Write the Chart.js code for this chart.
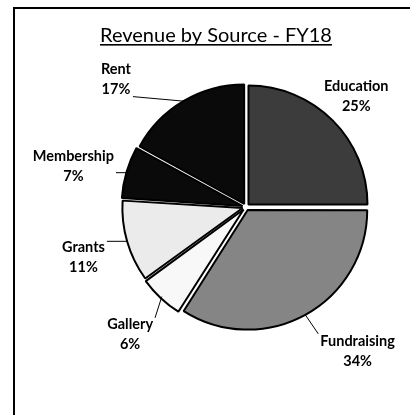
<!DOCTYPE html>
<html><head><meta charset="utf-8">
<script src="https://cdn.jsdelivr.net/npm/chart.js@4/dist/chart.umd.min.js"></script>
<style>html,body{margin:0;padding:0;background:#fff;overflow:hidden}#wrap{width:410px;height:415px;position:relative;overflow:hidden}canvas{display:block}</style>
</head><body><div id="wrap"><canvas id="c" width="410" height="415"></canvas></div>
<script>
const TITLE = 'Revenue by Source - FY18';
const categories = ['Education', 'Fundraising', 'Gallery', 'Grants', 'Membership', 'Rent'];
const shares = [25, 34, 6, 11, 7, 17];
const pctLabels = ['25%', '34%', '6%', '11%', '7%', '17%'];

// styling
const fills = ['#3c3c3c', '#858585', '#f8f8f8', '#ebebeb', '#0a0a0a', '#0a0a0a'];
const labelLayout = [
  {shift: 0, dist: 1.31},
  {shift: -9, dist: 1.53},
  {shift: -1, dist: 1.45},
  {shift: -1, dist: 1.43},
  {shift: -3, dist: 1.49},
  {shift: -15, dist: 1.53}
];
const LABEL_FONT = 'bold 14.5px Lato';
const LINE_GAP = 20;

const framePlugin = {
  id: 'frame',
  beforeDraw(chart) {
    const ctx = chart.ctx;
    ctx.save();
    ctx.fillStyle = '#fff';
    ctx.fillRect(0, 0, chart.width, chart.height);
    ctx.strokeStyle = '#000';
    ctx.lineWidth = 2;
    ctx.beginPath();
    ctx.moveTo(14, chart.height);
    ctx.lineTo(14, 8);
    ctx.lineTo(chart.width, 8);
    ctx.stroke();
    ctx.restore();
  }
};

const titlePlugin = {
  id: 'titleU',
  afterDraw(chart) {
    const ctx = chart.ctx;
    ctx.save();
    ctx.font = '20px Lato';
    ctx.fillStyle = '#000';
    ctx.textAlign = 'center';
    ctx.textBaseline = 'alphabetic';
    const cx = 216, by = 42;
    ctx.fillText(TITLE, cx, by);
    const w = ctx.measureText(TITLE).width;
    ctx.fillRect(cx - w / 2, by + 2, w, 1.6);
    ctx.restore();
  }
};

const labelPlugin = {
  id: 'sliceLabels',
  afterDatasetsDraw(chart) {
    const ctx = chart.ctx;
    const meta = chart.getDatasetMeta(0);
    ctx.save();
    ctx.font = LABEL_FONT;
    ctx.fillStyle = '#000';
    ctx.strokeStyle = '#000';
    ctx.lineWidth = 1;
    ctx.textAlign = 'center';
    ctx.textBaseline = 'middle';
    meta.data.forEach((arc, i) => {
      const p = arc.getProps(['x', 'y', 'startAngle', 'endAngle', 'outerRadius'], true);
      const mid = (p.startAngle + p.endAngle) / 2;
      const L = labelLayout[i];
      const a = mid + L.shift * Math.PI / 180;
      const lx = p.x + Math.cos(a) * p.outerRadius * L.dist;
      const ly = p.y + Math.sin(a) * p.outerRadius * L.dist;
      const t1 = categories[i], t2 = pctLabels[i];
      ctx.fillText(t1, lx, ly - LINE_GAP / 2);
      ctx.fillText(t2, lx, ly + LINE_GAP / 2);
      const w = Math.max(ctx.measureText(t1).width, ctx.measureText(t2).width);
      const bx0 = lx - w / 2 - 2, bx1 = lx + w / 2 + 2;
      const by0 = ly - LINE_GAP / 2 - 7, by1 = ly + LINE_GAP / 2 + 7;
      const er = p.outerRadius + 4;
      const ex = p.x + Math.cos(mid) * er, ey = p.y + Math.sin(mid) * er;
      const sx = Math.min(Math.max(ex, bx0), bx1), sy = Math.min(Math.max(ey, by0), by1);
      if (Math.hypot(ex - sx, ey - sy) > 10) {
        ctx.beginPath();
        ctx.moveTo(sx, sy);
        ctx.lineTo(ex, ey);
        ctx.stroke();
      }
    });
    ctx.restore();
  }
};

new Chart(document.getElementById('c'), {
  type: 'pie',
  data: {
    labels: categories,
    datasets: [{
      data: shares,
      backgroundColor: fills,
      borderColor: '#000',
      borderWidth: 2,
      offset: 14,
      hoverOffset: 14
    }]
  },
  options: {
    responsive: false,
    animation: false,
    devicePixelRatio: 1,
    layout: {padding: {left: 118, right: 36, top: 80, bottom: 81}},
    plugins: {legend: {display: false}, tooltip: {enabled: false}, title: {display: false}}
  },
  plugins: [framePlugin, titlePlugin, labelPlugin]
});
</script>
</body></html>
